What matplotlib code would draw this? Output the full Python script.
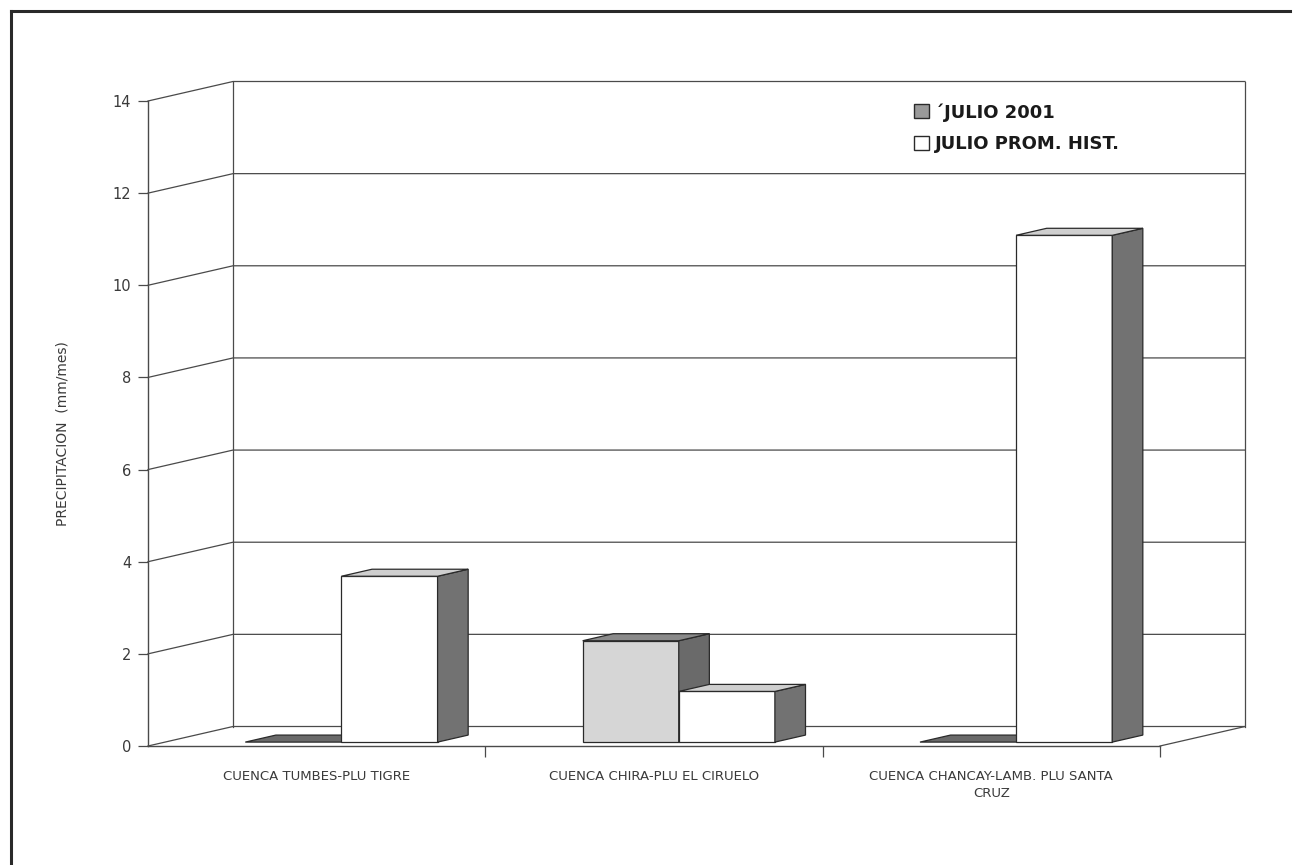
import matplotlib
matplotlib.use("Agg")
import matplotlib.pyplot as plt
from matplotlib.patches import Polygon, Patch
from matplotlib.lines import Line2D

# ---- data -------------------------------------------------------------
categories = [
    "CUENCA TUMBES-PLU TIGRE",
    "CUENCA CHIRA-PLU EL CIRUELO",
    "CUENCA CHANCAY-LAMB. PLU SANTA\nCRUZ",
]
series_names = ["\u00b4JULIO 2001", "JULIO PROM. HIST."]
julio_2001 = [0.0, 2.2, 0.0]
julio_prom_hist = [3.6, 1.1, 11.0]
y_ticks = [0, 2, 4, 6, 8, 10, 12, 14]

# ---- styling ----------------------------------------------------------
plt.rcParams["font.family"] = ["DejaVu Sans"]
line_col = "#4a4a4a"
text_col = "#3a3a3a"
faces = [
    # front, top, side
    ("#d6d6d6", "#8a8a8a", "#6a6a6a"),
    ("#ffffff", "#cfcfcf", "#727272"),
]

W, H = 1293, 865
fig = plt.figure(figsize=(W / 100, H / 100), dpi=100)
fig.patch.set_facecolor("white")

# front plane of the chart box
left_px, right_px, top_px, bottom_px = 148, 1160, 101, 746
ax = fig.add_axes([left_px / W, 1 - bottom_px / H,
                   (right_px - left_px) / W, (bottom_px - top_px) / H])
ncat = len(categories)
ax.set_xlim(0, ncat)
ax.set_ylim(0, 14)
ax.set_facecolor("none")

# oblique depth vector (data units) for the full floor depth
px_x = (right_px - left_px) / ncat
px_y = (bottom_px - top_px) / 14
dx = 85 / px_x
dy = 19.5 / px_y

# walls, floor and gridlines
for yv in y_ticks:
    ax.plot([0, dx, ncat + dx], [yv, yv + dy, yv + dy],
            color=line_col, lw=0.9, clip_on=False, zorder=1)
ax.plot([dx, dx], [dy, 14 + dy], color=line_col, lw=0.9, clip_on=False, zorder=1)
ax.plot([ncat + dx, ncat + dx], [dy, 14 + dy], color=line_col, lw=0.9,
        clip_on=False, zorder=1)
ax.plot([0, ncat], [0, 0], color=line_col, lw=1.0, clip_on=False, zorder=1)
ax.plot([ncat, ncat + dx], [0, dy], color=line_col, lw=0.9, clip_on=False, zorder=1)

# bars as oblique boxes
f0, f1 = 0.2, 0.56          # front / back depth fraction of the bars
bar_off, bar_w = 0.238, 0.285
z = 3
for ci in range(ncat):
    for si, vals in enumerate([julio_2001, julio_prom_hist]):
        v = vals[ci]
        x0 = ci + bar_off + si * bar_w
        x1 = x0 + bar_w
        fx, fy = f0 * dx, f0 * dy
        bx, by = f1 * dx, f1 * dy
        front_c, top_c, side_c = faces[si]
        kw = dict(closed=True, edgecolor="#2a2a2a", lw=0.9, clip_on=False,
                  joinstyle="miter")
        if v > 0:
            ax.add_patch(Polygon([(x0 + fx, fy), (x1 + fx, fy),
                                  (x1 + fx, v + fy), (x0 + fx, v + fy)],
                                 facecolor=front_c, zorder=z, **kw))
            ax.add_patch(Polygon([(x1 + fx, fy), (x1 + bx, by),
                                  (x1 + bx, v + by), (x1 + fx, v + fy)],
                                 facecolor=side_c, zorder=z, **kw))
        ax.add_patch(Polygon([(x0 + fx, v + fy), (x1 + fx, v + fy),
                              (x1 + bx, v + by), (x0 + bx, v + by)],
                             facecolor=top_c if v > 0 else "#6a6a6a",
                             zorder=z, **kw))
        z += 1

# axes: only the front value axis and the floor edge
for s in ["top", "right", "bottom"]:
    ax.spines[s].set_visible(False)
ax.spines["left"].set_color(line_col)
ax.spines["left"].set_linewidth(1.0)
ax.set_yticks(y_ticks)
ax.set_yticklabels([str(t) for t in y_ticks])
ax.tick_params(axis="y", direction="out", length=7, width=0.9, color=line_col,
               labelsize=10.5, labelcolor=text_col, pad=5)
ax.set_xticks(range(1, ncat + 1))
ax.set_xticklabels([])
ax.tick_params(axis="x", which="major", direction="out", length=8, width=0.9,
               color=line_col)
ax.set_xticks([i + 0.5 for i in range(ncat)], categories, minor=True)
ax.tick_params(axis="x", which="minor", length=0, pad=17, labelsize=9.5,
               labelcolor=text_col)
for lab in ax.get_xticklabels(minor=True):
    lab.set_linespacing(1.45)

fig.text(62 / W, 1 - 434 / H, "PRECIPITACION  (mm/mes)", rotation=90,
         ha="center", va="center", fontsize=10, color=text_col)

# legend
handles = [Patch(facecolor="#9a9a9a", edgecolor="#2a2a2a", lw=1.0),
           Patch(facecolor="white", edgecolor="#2a2a2a", lw=1.0)]
fig.legend(handles, series_names, loc="upper left",
           bbox_to_anchor=(905 / W, 1 - 94 / H), frameon=False,
           prop={"weight": "bold", "size": 13}, handlelength=0.85,
           handleheight=0.85, handletextpad=0.3, labelspacing=0.75,
           labelcolor="#1a1a1a", borderpad=0)

# outer frame
fig.add_artist(Line2D([11 / W, 1290 / W], [1 - 11 / H, 1 - 11 / H],
                      color="#2a2a2a", lw=2.2, transform=fig.transFigure))
fig.add_artist(Line2D([11 / W, 11 / W], [1 - 11 / H, 0.0],
                      color="#2a2a2a", lw=2.2, transform=fig.transFigure))

fig.savefig("out.png", dpi=100)
